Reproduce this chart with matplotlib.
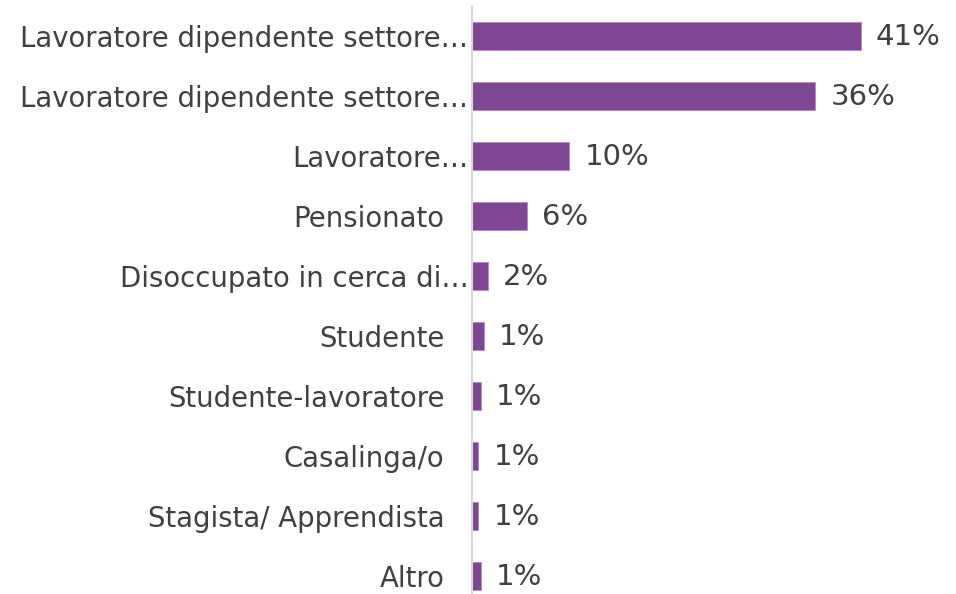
import numpy as np
import matplotlib
matplotlib.use("Agg")
import matplotlib.pyplot as plt
from matplotlib.transforms import ScaledTranslation

categories = [
    "Lavoratore dipendente settore…",
    "Lavoratore dipendente settore…",
    "Lavoratore…",
    "Pensionato",
    "Disoccupato in cerca di…",
    "Studente",
    "Studente-lavoratore",
    "Casalinga/o",
    "Stagista/ Apprendista",
    "Altro",
]
values = [41.0, 36.2, 10.3, 5.8, 1.7, 1.3, 1.0, 0.7, 0.7, 1.0]
value_labels = ["41%", "36%", "10%", "6%", "2%", "1%", "1%", "1%", "1%", "1%"]

bar_color = "#7f4793"
text_color = "#404040"

fig = plt.figure(figsize=(9.56, 5.94), dpi=100)
# plot area runs a little past the bottom edge of the figure, as in the source
ax = fig.add_axes([471.5 / 956, -12 / 594, 1 - 471.5 / 956, 600 / 594])

y = np.arange(len(categories))
ax.barh(y, values, height=0.47, color=bar_color, edgecolor="#b48cc3", linewidth=0.6)
ax.set_ylim(len(categories) - 0.5, -0.5)
ax.set_xlim(0, 484.5 / 9.49)

ax.set_yticks(y)
ax.set_yticklabels(categories, fontsize=19.8, color=text_color)
ax.tick_params(axis="y", length=0, pad=19.5)
ax.set_xticks([])

# truncated labels sit closer to the axis in the original
for t in ax.get_yticklabels():
    if t.get_text().endswith("…"):
        t.set_transform(t.get_transform() + ScaledTranslation(0.24, 0, fig.dpi_scale_trans))

for yi, v, lab in zip(y, values, value_labels):
    ax.annotate(lab, (v, yi), xytext=(11, -1), textcoords="offset points",
                va="center", ha="left", fontsize=21, color=text_color)

for s in ("top", "right", "bottom"):
    ax.spines[s].set_visible(False)
ax.spines["left"].set_color("#d9d9d9")
ax.spines["left"].set_linewidth(1.5)

fig.savefig("out.png", dpi=100)
